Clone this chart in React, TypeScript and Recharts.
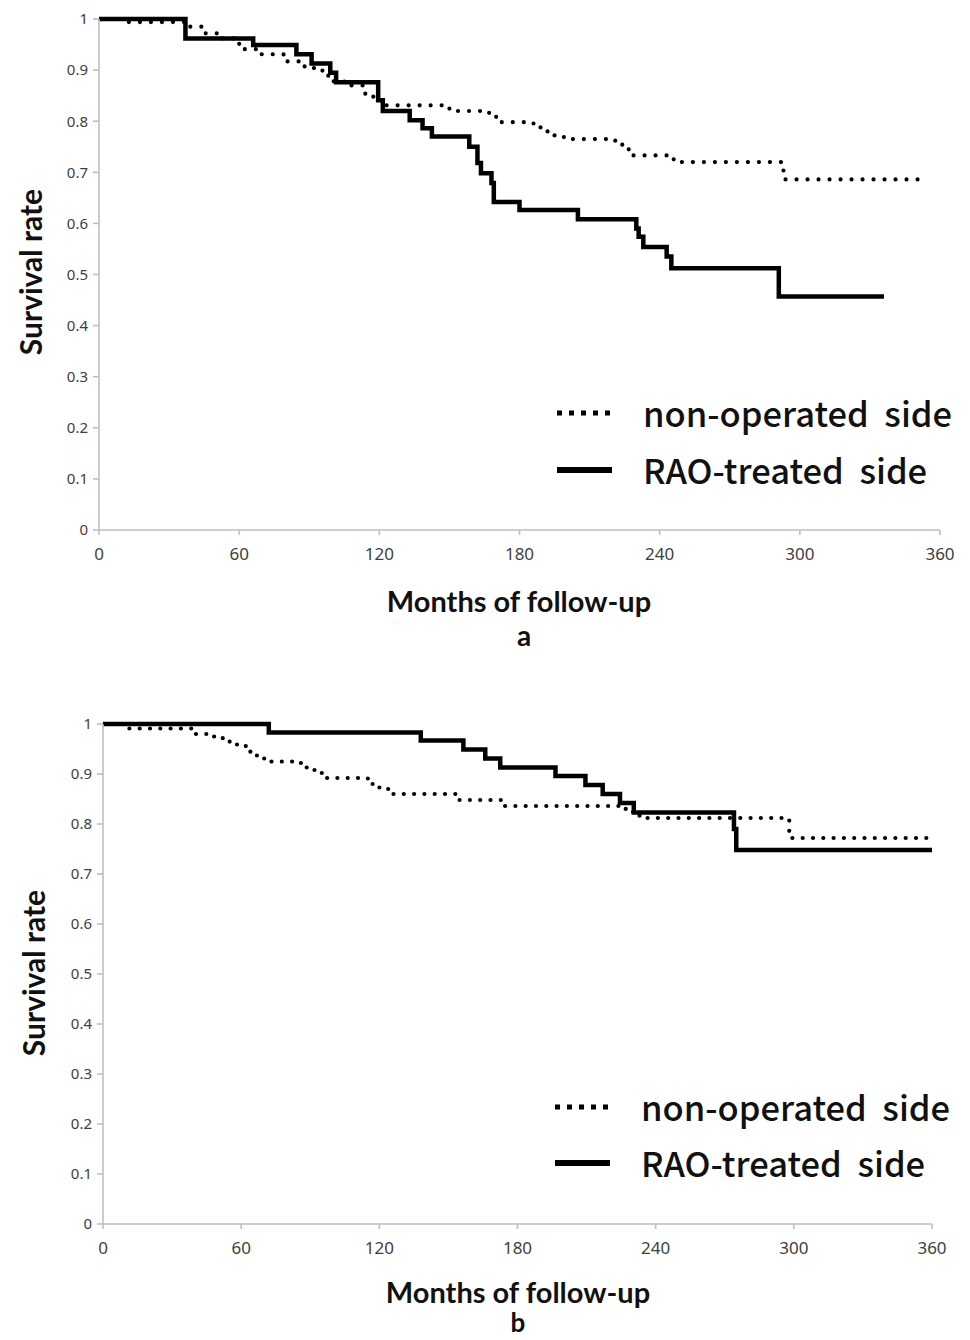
import React from "react";
import { LineChart, Line, XAxis, YAxis } from "recharts";

// Panel a
const aRaoMonths = [0, 37, 66, 84.5, 91, 99, 101.5, 119.5, 121.5, 133, 138.5, 142.5, 158.5, 162, 163.5, 168, 169, 180, 205, 230, 231, 233, 243, 245, 291, 336];
const aRaoSurv = [1, 0.962, 0.949, 0.931, 0.913, 0.895, 0.876, 0.841, 0.82, 0.802, 0.786, 0.77, 0.75, 0.718, 0.698, 0.679, 0.642, 0.626, 0.608, 0.59, 0.574, 0.554, 0.535, 0.512, 0.457, 0.457];
const aNonMonths = [0, 10, 38, 45, 51, 60, 68, 79, 88, 92, 96, 100, 105, 114, 119, 122, 150, 167, 170, 186, 189, 192, 195, 199, 221, 224, 227, 243, 246, 293, 355];
const aNonSurv = [1, 0.994, 0.985, 0.972, 0.962, 0.941, 0.931, 0.917, 0.907, 0.899, 0.889, 0.878, 0.87, 0.848, 0.841, 0.831, 0.82, 0.81, 0.798, 0.79, 0.784, 0.778, 0.772, 0.765, 0.755, 0.745, 0.733, 0.726, 0.72, 0.686, 0.686];

// Panel b
const bRaoMonths = [0, 72, 138, 156.5, 166, 172.5, 196.5, 209.5, 217, 224.5, 230.5, 274, 275, 360];
const bRaoSurv = [1, 0.983, 0.967, 0.949, 0.931, 0.913, 0.896, 0.878, 0.86, 0.842, 0.823, 0.79, 0.748, 0.748];
const bNonMonths = [0, 10, 40, 48, 52, 55, 62, 64, 70, 84, 86, 90, 93, 96, 115, 118, 121, 124, 154, 174, 227, 233, 298, 358];
const bNonSurv = [1, 0.991, 0.98, 0.975, 0.969, 0.959, 0.949, 0.937, 0.925, 0.922, 0.913, 0.908, 0.902, 0.892, 0.88, 0.873, 0.87, 0.86, 0.848, 0.836, 0.824, 0.812, 0.772, 0.772];

const xTicks = [0, 60, 120, 180, 240, 300, 360];
const yTicks = [0, 0.1, 0.2, 0.3, 0.4, 0.5, 0.6, 0.7, 0.8, 0.9, 1];
const seriesNames = ["non-operated side", "RAO-treated side"];
const xTitle = "Months of follow-up";
const yTitle = "Survival rate";

const zip = (m: number[], s: number[]) => m.map((t, i) => ({ t, s: s[i] }));

const AXIS = "#bfbfbf";
const TICK = "#404040";

type PanelProps = {
  top: number;
  margin: { top: number; right: number; bottom: number; left: number };
  rao: { t: number; s: number }[];
  non: { t: number; s: number }[];
  dash: string;
};

function Panel({ top, margin, rao, non, dash }: PanelProps) {
  return (
    <div style={{ position: "absolute", left: 0, top }}>
      <LineChart width={970} height={580} margin={margin}>
        <XAxis
          dataKey="t"
          type="number"
          domain={[0, 360]}
          ticks={xTicks}
          interval={0}
          allowDataOverflow
          height={30}
          stroke={AXIS}
          strokeWidth={1.6}
          tickSize={5}
          tickMargin={13}
          tick={{ fill: TICK, fontSize: 17, fontFamily: "'Liberation Sans Narrow', 'Noto Sans', sans-serif" }}
        />
        <YAxis
          type="number"
          domain={[0, 1]}
          ticks={yTicks}
          interval={0}
          width={60}
          stroke={AXIS}
          strokeWidth={1.6}
          tickSize={6}
          tickMargin={5}
          tick={{ fill: TICK, fontSize: 15, fontFamily: "'Noto Sans', sans-serif" }}
        />
        <Line
          data={non}
          dataKey="s"
          type="stepAfter"
          stroke="#000"
          strokeWidth={4.2}
          strokeDasharray={dash}
          strokeLinecap="round"
          dot={false}
          activeDot={false}
          isAnimationActive={false}
        />
        <Line
          data={rao}
          dataKey="s"
          type="stepAfter"
          stroke="#000"
          strokeWidth={4.5}
          dot={false}
          activeDot={false}
          isAnimationActive={false}
        />
      </LineChart>
    </div>
  );
}

const titleFont = "Lato, 'Open Sans', sans-serif";
const legendFont = "'Noto Sans CJK JP', 'Noto Sans', sans-serif";

function Legend({ top1, top2, left }: { top1: number; top2: number; left: number }) {
  const textStyle: React.CSSProperties = {
    position: "absolute",
    left: left + 88,
    fontFamily: legendFont,
    fontSize: 34.5,
    fontWeight: 500,
    lineHeight: "46px",
    whiteSpace: "pre",
    color: "#111",
  };
  return (
    <>
      <svg style={{ position: "absolute", left, top: top1 - 4 }} width={60} height={8}>
        <line x1={2} y1={4} x2={58} y2={4} stroke="#000" strokeWidth={5} strokeDasharray="5 7" />
      </svg>
      <svg style={{ position: "absolute", left, top: top2 - 4 }} width={60} height={8}>
        <line x1={2} y1={4} x2={57} y2={4} stroke="#000" strokeWidth={6} />
      </svg>
      <div style={{ ...textStyle, top: top1 - 24 }}>{seriesNames[0].replace(" side", "  side")}</div>
      <div style={{ ...textStyle, top: top2 - 24 }}>{seriesNames[1].replace(" side", "  side")}</div>
    </>
  );
}

function Centered({ x, y, children, size, rotate }: { x: number; y: number; children: React.ReactNode; size: number; rotate?: boolean }) {
  return (
    <div
      style={{
        position: "absolute",
        left: x,
        top: y,
        transform: `translate(-50%, -50%)${rotate ? " rotate(-90deg)" : ""}`,
        fontFamily: titleFont,
        fontWeight: 700,
        fontSize: size,
        whiteSpace: "nowrap",
        color: "#111",
        lineHeight: 1,
      }}
    >
      {children}
    </div>
  );
}

export default function App() {
  return (
    <div style={{ position: "absolute", left: 0, top: 0, width: 970, height: 1340, background: "#fff", overflow: "hidden" }}>
      <Panel
        top={0}
        margin={{ top: 19, right: 30, bottom: 20, left: 39 }}
        rao={zip(aRaoMonths, aRaoSurv)}
        non={zip(aNonMonths, aNonSurv)}
        dash="0 11"
      />
      <Panel
        top={700}
        margin={{ top: 24, right: 38, bottom: 26, left: 43 }}
        rao={zip(bRaoMonths, bRaoSurv)}
        non={zip(bNonMonths, bNonSurv)}
        dash="0 10.3"
      />
      <Centered x={30} y={272} size={30} rotate>{yTitle}</Centered>
      <Centered x={519} y={600} size={29}>{xTitle}</Centered>
      <Centered x={524} y={635} size={28}>a</Centered>
      <Legend top1={413} top2={470} left={555} />

      <Centered x={33} y={973} size={30} rotate>{yTitle}</Centered>
      <Centered x={518} y={1291} size={29}>{xTitle}</Centered>
      <Centered x={518} y={1322} size={26}>b</Centered>
      <Legend top1={1107} top2={1163} left={553} />
    </div>
  );
}
